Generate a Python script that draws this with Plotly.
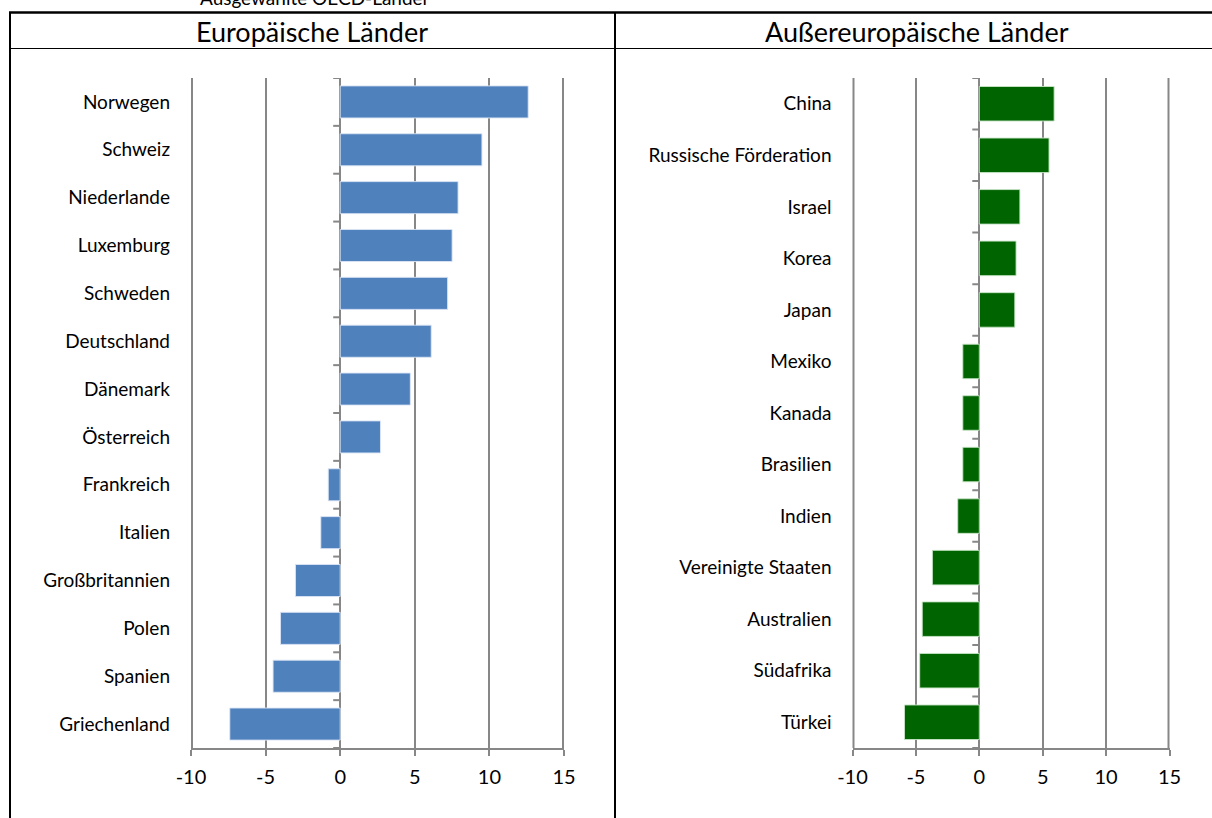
import plotly.graph_objects as go

# Europäische Länder (top to bottom)
eu_countries = ["Norwegen", "Schweiz", "Niederlande", "Luxemburg", "Schweden",
                "Deutschland", "Dänemark", "Österreich", "Frankreich", "Italien",
                "Großbritannien", "Polen", "Spanien", "Griechenland"]
eu_values = [12.6, 9.5, 7.9, 7.5, 7.2, 6.1, 4.7, 2.7, -0.8, -1.3, -3.0, -4.0, -4.5, -7.4]

# Außereuropäische Länder (top to bottom)
non_eu_countries = ["China", "Russische Förderation", "Israel", "Korea", "Japan",
                    "Mexiko", "Kanada", "Brasilien", "Indien", "Vereinigte Staaten",
                    "Australien", "Südafrika", "Türkei"]
non_eu_values = [5.9, 5.5, 3.2, 2.9, 2.8, -1.3, -1.3, -1.3, -1.7, -3.7, -4.5, -4.7, -5.9]

x_ticks = [-10, -5, 0, 5, 10, 15]
x_range = [-10, 15]

FONT = "Lato"
GRID = "#878787"
W, H = 1212, 818


def px_x(p):
    return p / W


def px_y(p):
    return 1 - p / H


fig = go.Figure()

fig.add_trace(go.Bar(
    x=eu_values, y=eu_countries, orientation="h",
    marker=dict(color="#4F81BD", line=dict(color="rgba(220,230,245,0.9)", width=1)),
    width=0.67, xaxis="x", yaxis="y", showlegend=False,
))
fig.add_trace(go.Bar(
    x=non_eu_values, y=non_eu_countries, orientation="h",
    marker=dict(color="#006400", line=dict(color="rgba(200,230,200,0.9)", width=1)),
    width=0.67, xaxis="x2", yaxis="y2", showlegend=False,
))

ydom = [px_y(748), px_y(78)]

common_x = dict(
    range=x_range, tickvals=x_ticks, ticktext=[str(v) for v in x_ticks],
    showgrid=True, gridcolor=GRID, gridwidth=2,
    zeroline=True, zerolinecolor=GRID, zerolinewidth=2,
    showline=True, linecolor=GRID, linewidth=2,
    ticks="outside", ticklen=6, tickwidth=2, tickcolor=GRID,
    ticklabelstandoff=4,
    tickfont=dict(family=FONT, size=20, color="black"),
    fixedrange=True,
)
common_y = dict(
    showgrid=False, zeroline=False, showline=False, ticks="",
    tickfont=dict(family=FONT, size=19, color="black"),
    ticklabelstandoff=20,
)

fig.update_layout(
    width=W, height=H,
    margin=dict(l=0, r=0, t=0, b=0, autoexpand=False),
    paper_bgcolor="white", plot_bgcolor="white",
    font=dict(family=FONT, color="black"),
    xaxis=dict(domain=[px_x(191), px_x(564)], anchor="y", **common_x),
    yaxis=dict(domain=ydom, anchor="x", type="category",
               range=[len(eu_countries) - 0.5, -0.5], **common_y),
    xaxis2=dict(domain=[px_x(852.5), px_x(1169.5)], anchor="y2", **common_x),
    yaxis2=dict(domain=ydom, anchor="x2", type="category",
                range=[len(non_eu_countries) - 0.5, -0.5], **common_y),
    bargap=0.33,
)

shapes = []
for xr, yr, n in (("x", "y", len(eu_countries)), ("x2", "y2", len(non_eu_countries))):
    # gridlines on the outer ticks, which plotly leaves out at the range ends
    # (half of the stroke is clipped by the plot area, hence the doubled width)
    for v in (x_ticks[0], x_ticks[-1]):
        shapes.append(dict(
            type="line", xref=xr, yref=f"{yr} domain", x0=v, x1=v, y0=0, y1=1,
            line=dict(color=GRID, width=4), layer="below",
        ))
    # category tick marks on the zero axis, at the boundaries between bars
    for k in range(n + 1):
        shapes.append(dict(
            type="line", xref=xr, yref=yr, xsizemode="pixel", xanchor=0,
            x0=-7, x1=0, y0=k - 0.5, y1=k - 0.5,
            line=dict(color=GRID, width=2), layer="above",
        ))

# surrounding table frame
frame = dict(color="black")
shapes += [
    dict(type="line", xref="paper", yref="paper", x0=px_x(9), x1=1.0,
         y0=px_y(12.5), y1=px_y(12.5), line=dict(width=2.5, **frame)),
    dict(type="line", xref="paper", yref="paper", x0=px_x(10), x1=1.0,
         y0=px_y(48.5), y1=px_y(48.5), line=dict(width=1.2, **frame)),
    dict(type="line", xref="paper", yref="paper", x0=px_x(10), x1=px_x(10),
         y0=px_y(12), y1=0, line=dict(width=2, **frame)),
    dict(type="line", xref="paper", yref="paper", x0=px_x(615), x1=px_x(615),
         y0=px_y(12), y1=0, line=dict(width=2, **frame)),
]
fig.update_layout(shapes=shapes)

annotations = [
    dict(text="Ausgewählte OECD-Länder", x=px_x(315), y=px_y(-3), xref="paper", yref="paper",
         showarrow=False, font=dict(family=FONT, size=19, color="black"),
         xanchor="center", yanchor="middle"),
    dict(text="Europäische Länder", x=px_x(312), y=px_y(31), xref="paper", yref="paper",
         showarrow=False, font=dict(family=FONT, size=27, color="black"),
         xanchor="center", yanchor="middle"),
    dict(text="Außereuropäische Länder", x=px_x(917), y=px_y(31), xref="paper", yref="paper",
         showarrow=False, font=dict(family=FONT, size=27, color="black"),
         xanchor="center", yanchor="middle"),
]
fig.update_layout(annotations=annotations)

fig.write_html("out.html")
